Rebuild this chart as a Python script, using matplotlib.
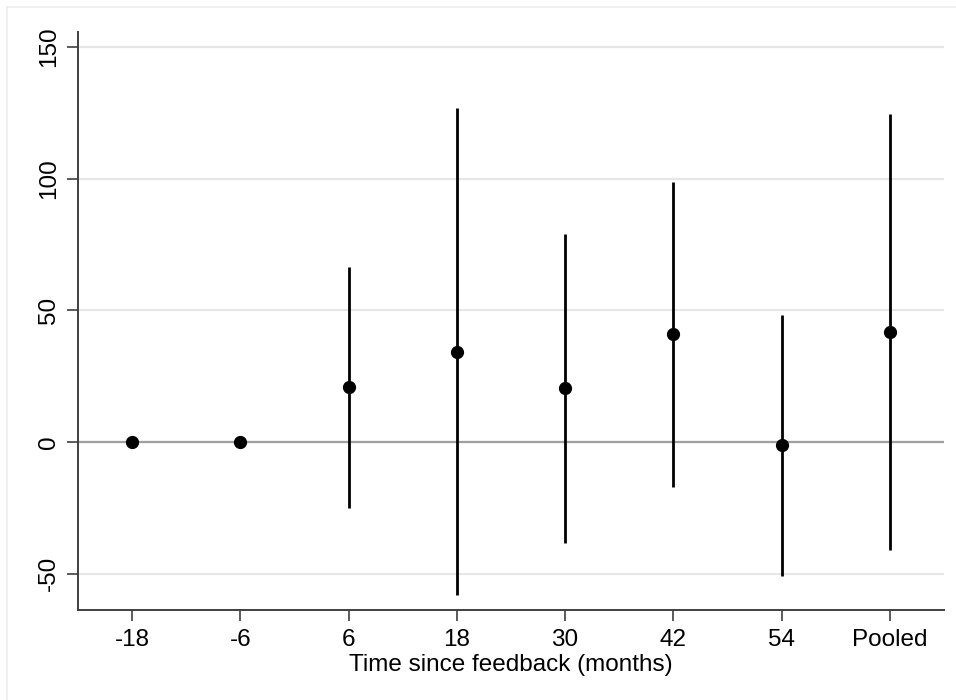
"""Оцінки ефекту за часом після фідбеку з довірчими інтервалами."""

import matplotlib.pyplot as plt
from matplotlib.lines import Line2D

# Дані.
categories = ["-18", "-6", "6", "18", "30", "42", "54", "Pooled"]
estimates = [0.0, 0.0, 20.9, 34.3, 20.5, 40.9, -1.3, 41.7]
ci_low = [None, None, -25.1, -58.1, -38.3, -17.0, -50.7, -41.2]
ci_high = [None, None, 66.5, 126.8, 79.0, 98.6, 48.3, 124.4]
y_ticks = [-50, 0, 50, 100, 150]

plt.rcParams["font.family"] = ["Liberation Sans", "DejaVu Sans"]
FONT_SIZE = 17.5

fig = plt.figure(figsize=(9.56, 7.0), dpi=100)
ax = fig.add_axes([78 / 956, 1 - 610 / 700, (944 - 78) / 956, (610 - 32) / 700])

# Сітка та нульова лінія.
for value in y_ticks:
    ax.axhline(value, color="#e6e6e6", linewidth=1.6, zorder=0)
ax.axhline(0, color="#a0a0a0", linewidth=1.6, zorder=1)

positions = list(range(len(categories)))
for pos, low, high in zip(positions, ci_low, ci_high):
    if low is not None:
        ax.vlines(pos, low, high, color="black", linewidth=2.0, zorder=2)
ax.plot(positions, estimates, linestyle="none", marker="o", markersize=8.5,
        color="black", zorder=3)

ax.set_xlim(-0.5, 7.5)
ax.set_ylim(-63.8, 155.7)
ax.set_xticks(positions)
ax.set_xticklabels(categories, fontsize=FONT_SIZE)
ax.set_yticks(y_ticks)
ax.set_yticklabels([str(v) for v in y_ticks], fontsize=FONT_SIZE, rotation=90, va="center")
ax.tick_params(axis="x", length=8, width=1.2, color="#404040", pad=5.5)
ax.tick_params(axis="y", length=8, width=1.2, color="#404040", pad=5)
ax.set_xlabel("Time since feedback (months)", fontsize=FONT_SIZE, labelpad=2)

for side in ("top", "right"):
    ax.spines[side].set_visible(False)
for side in ("left", "bottom"):
    ax.spines[side].set_color("#404040")
    ax.spines[side].set_linewidth(1.4)

# Зовнішня рамка (видно лише верх і ліво).
fig.add_artist(Line2D([7 / 956, 1], [1 - 7 / 700, 1 - 7 / 700], color="#ececec", linewidth=1.2))
fig.add_artist(Line2D([7 / 956, 7 / 956], [0, 1 - 7 / 700], color="#ececec", linewidth=1.2))

fig.savefig("out.png", dpi=100)
